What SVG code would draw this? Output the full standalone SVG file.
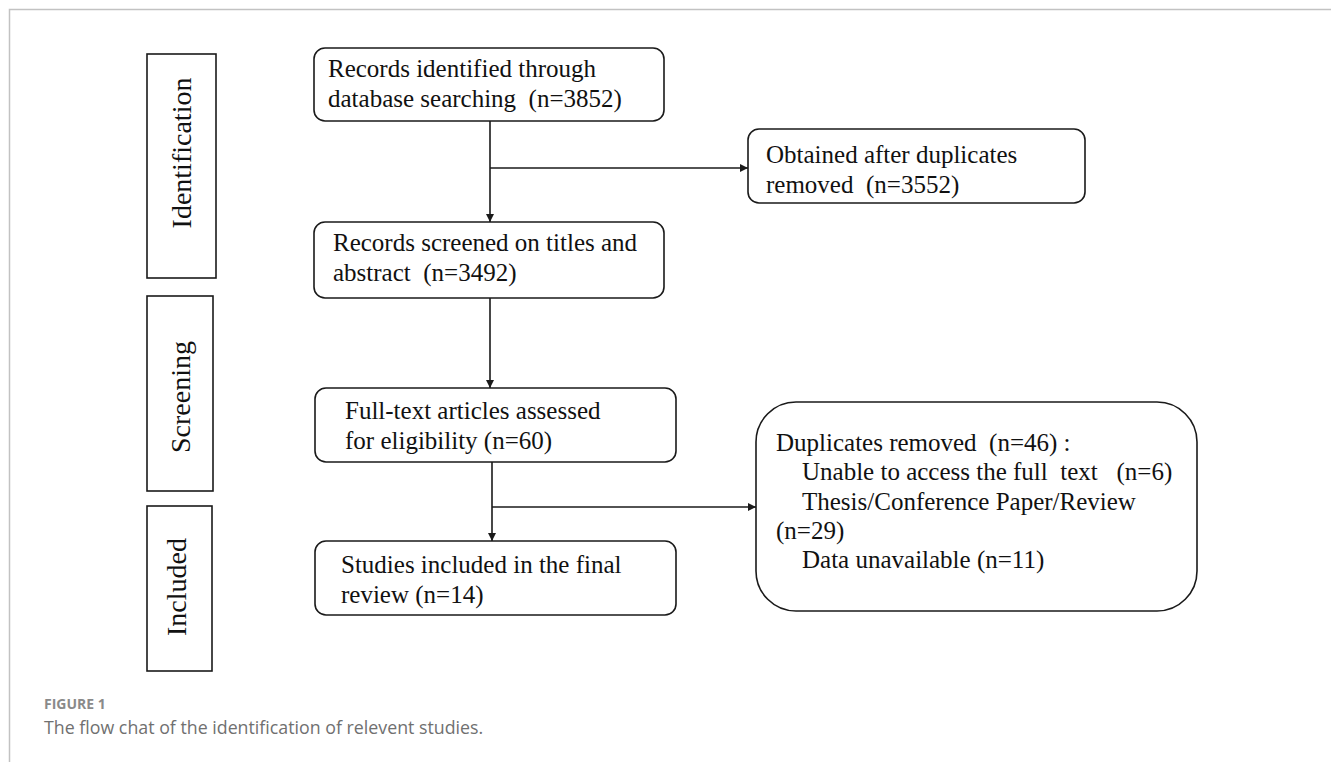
<svg xmlns="http://www.w3.org/2000/svg" width="1331" height="762" viewBox="0 0 1331 762" xml:space="preserve">
<style>
.box{fill:#fff;stroke:#1a1a1a;stroke-width:1.6}
.t{font-family:"Liberation Serif","Times New Roman",serif;font-size:25px;fill:#111;white-space:pre}
.v{font-family:"Liberation Serif","Times New Roman",serif;font-size:28px;fill:#111;text-anchor:middle}
.c{stroke:#1a1a1a;stroke-width:1.6;fill:none}
</style>
<defs>
<marker id="ah" viewBox="0 0 10 10" refX="10" refY="5" markerWidth="8" markerHeight="8" markerUnits="userSpaceOnUse" orient="auto">
<path d="M0,0 L10,5 L0,10 z" fill="#1a1a1a"/>
</marker>
</defs>
<rect width="1331" height="762" fill="#fff"/>
<path d="M9.5,762 V9.5 H1331" fill="none" stroke="#c2c2c2" stroke-width="1.5"/>

<g id="stage-identification">
<rect class="box" x="147" y="54" width="69" height="224"/>
<text class="v" transform="translate(191,153) rotate(-90)">Identification</text>
</g>
<g id="stage-screening">
<rect class="box" x="147" y="296" width="66" height="195"/>
<text class="v" transform="translate(190,397) rotate(-90)">Screening</text>
</g>
<g id="stage-included">
<rect class="box" x="147" y="506" width="65" height="165"/>
<text class="v" transform="translate(186,587) rotate(-90)">Included</text>
</g>

<g id="records-identified">
<rect class="box" x="314" y="48" width="350" height="73" rx="11"/>
<text class="t" x="328" y="77">Records identified through</text>
<text class="t" x="328" y="107">database searching  (n=3852)</text>
</g>
<g id="obtained">
<rect class="box" x="748" y="129" width="337" height="74" rx="11"/>
<text class="t" x="766" y="163">Obtained after duplicates</text>
<text class="t" x="766" y="193">removed  (n=3552)</text>
</g>
<g id="records-screened">
<rect class="box" x="314" y="222" width="350" height="76" rx="11"/>
<text class="t" x="333" y="251">Records screened on titles and</text>
<text class="t" x="333" y="281">abstract  (n=3492)</text>
</g>
<g id="full-text">
<rect class="box" x="315" y="388" width="361" height="74" rx="11"/>
<text class="t" x="345" y="419">Full-text articles assessed</text>
<text class="t" x="345" y="449">for eligibility (n=60)</text>
</g>
<g id="studies-included">
<rect class="box" x="315" y="541" width="361" height="74" rx="11"/>
<text class="t" x="341" y="573">Studies included in the final</text>
<text class="t" x="341" y="603">review (n=14)</text>
</g>
<g id="duplicates-removed">
<rect class="box" x="756" y="402" width="441" height="209" rx="40"/>
<text class="t" x="776" y="451">Duplicates removed  (n=46) :</text>
<text class="t" x="802" y="480">Unable to access the full  text   (n=6)</text>
<text class="t" x="802" y="510">Thesis/Conference Paper/Review</text>
<text class="t" x="776" y="539">(n=29)</text>
<text class="t" x="802" y="568">Data unavailable (n=11)</text>
</g>

<g id="connectors">
<line class="c" x1="490" y1="121" x2="490" y2="222" marker-end="url(#ah)"/>
<line class="c" x1="490" y1="168" x2="748" y2="168" marker-end="url(#ah)"/>
<line class="c" x1="490" y1="298" x2="490" y2="388" marker-end="url(#ah)"/>
<line class="c" x1="492" y1="462" x2="492" y2="541" marker-end="url(#ah)"/>
<line class="c" x1="492" y1="507" x2="756" y2="507" marker-end="url(#ah)"/>
</g>

<g id="caption">
<text x="44" y="709" font-family="'Open Sans','Noto Sans',sans-serif" font-size="14" font-weight="700" fill="#8a8a8a">FIGURE 1</text>
<text x="44" y="734" font-family="'Open Sans','Noto Sans',sans-serif" font-size="17.8" fill="#707070">The flow chat of the identification of relevent studies.</text>
</g>
</svg>
